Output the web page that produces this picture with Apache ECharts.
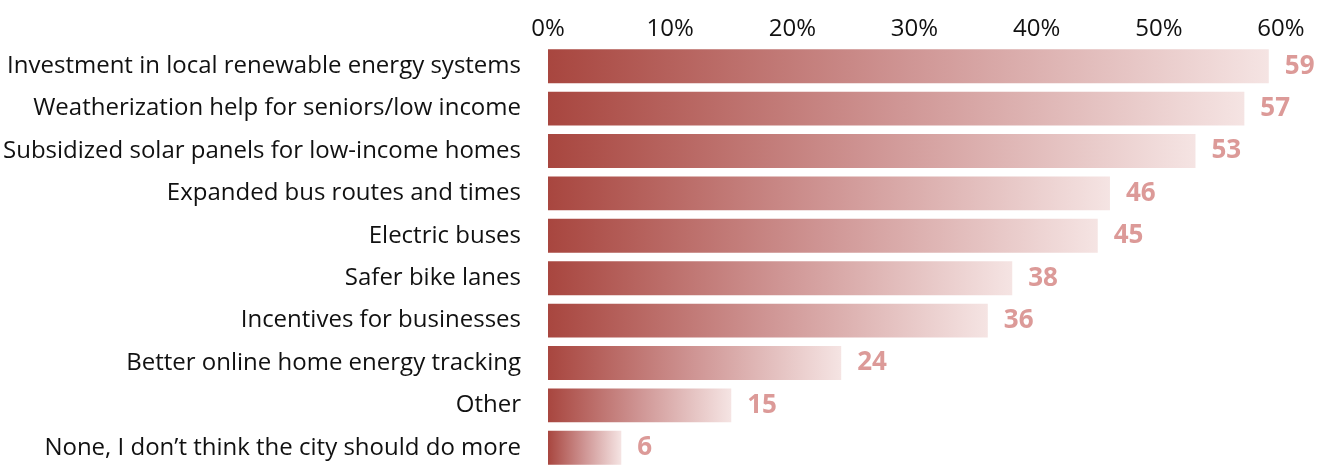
<!DOCTYPE html>
<html>
<head>
<meta charset="utf-8">
<script src="https://cdn.jsdelivr.net/npm/echarts@6/dist/echarts.min.js"></script>
<style>
html,body{margin:0;padding:0;background:#fff;}
#chart{width:1332px;height:469px;}
</style>
</head>
<body>
<div id="chart"></div>
<script>
const categories = [
  "Investment in local renewable energy systems",
  "Weatherization help for seniors/low income",
  "Subsidized solar panels for low-income homes",
  "Expanded bus routes and times",
  "Electric buses",
  "Safer bike lanes",
  "Incentives for businesses",
  "Better online home energy tracking",
  "Other",
  "None, I don\u2019t think the city should do more"
];
const values = [59, 57, 53, 46, 45, 38, 36, 24, 15, 6];
const tickValues = [0, 10, 20, 30, 40, 50, 60];

const FONT = "Open Sans";
const chart = echarts.init(document.getElementById('chart'));
chart.setOption({
  animation: false,
  grid: { left: 548, right: 51, top: 45, bottom: -2, containLabel: false },
  xAxis: {
    type: 'value',
    position: 'top',
    min: 0, max: 60, interval: 10,
    axisLine: { show: false },
    axisTick: { show: false },
    splitLine: { show: false },
    axisLabel: {
      margin: 4,
      fontFamily: FONT, fontSize: 24, color: '#111',
      formatter: v => tickValues.includes(v) ? v + '%' : ''
    }
  },
  yAxis: {
    type: 'category',
    inverse: true,
    data: categories,
    axisLine: { show: false },
    axisTick: { show: false },
    axisLabel: { margin: 27, fontFamily: FONT, fontSize: 24, color: '#111', padding: [7, 0, 0, 0] }
  },
  series: [{
    type: 'bar',
    data: values,
    barCategoryGap: '20%',
    itemStyle: {
      color: new echarts.graphic.LinearGradient(0, 0, 1, 0, [
        { offset: 0, color: '#a8463f' },
        { offset: 0.5, color: '#cf9594' },
        { offset: 1, color: '#f5e4e3' }
      ])
    },
    label: {
      show: true, position: 'right', distance: 16,
      fontFamily: FONT, fontSize: 26, fontWeight: 'bold', color: '#dc9a98',
      padding: [3, 0, 0, 0]
    }
  }]
});
</script>
</body>
</html>
